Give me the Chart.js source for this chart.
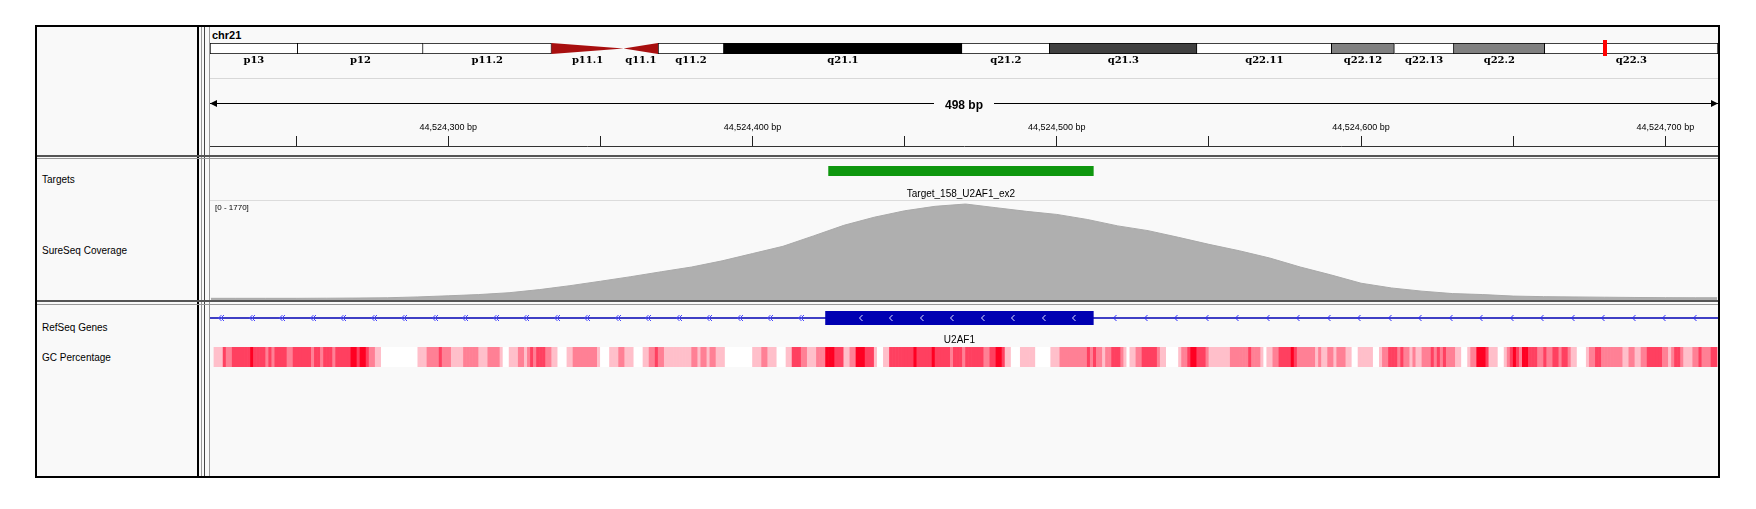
<!DOCTYPE html>
<html>
<head>
<meta charset="utf-8">
<title>chr21 - U2AF1 exon 2</title>
<script src="https://cdn.jsdelivr.net/npm/chart.js@4.4.1/dist/chart.umd.min.js"></script>
<style>
  body { margin:0; width:1756px; height:509px; background:#fff; overflow:hidden;
         font-family:"Liberation Sans", Arial, sans-serif; }
  .box { position:absolute; box-sizing:border-box; }
  canvas { position:absolute; }
  .name { position:absolute; left:42px; font-size:10px; line-height:10px; color:#000; white-space:nowrap; }
</style>
</head>
<body>
<!-- frame and panel rules -->
<div class="box" style="left:35px;top:25px;width:1685px;height:453px;border:2px solid #000;background:#f9f9f9"></div>
<div class="box" style="left:197px;top:27px;width:2px;height:449px;background:#000"></div>
<div class="box" style="left:201px;top:27px;width:1px;height:449px;background:#999"></div>
<div class="box" style="left:204px;top:27px;width:1px;height:449px;background:#444"></div>
<div class="box" style="left:209px;top:27px;width:1px;height:449px;background:#999"></div>
<div class="box" style="left:37px;top:155px;width:1681px;height:2px;background:#555"></div>
<div class="box" style="left:37px;top:158px;width:1681px;height:1px;background:#999"></div>
<div class="box" style="left:37px;top:300px;width:1681px;height:2px;background:#555"></div>
<div class="box" style="left:37px;top:304px;width:1681px;height:1px;background:#999"></div>
<div class="box" style="left:210px;top:78px;width:1508px;height:1px;background:#d8d8d8"></div>
<div class="box" style="left:210px;top:200px;width:1508px;height:1px;background:#dcdcdc"></div>

<!-- track names -->
<div class="name" style="top:175px">Targets</div>
<div class="name" style="top:246px">SureSeq Coverage</div>
<div class="name" style="top:323px">RefSeq Genes</div>
<div class="name" style="top:353px">GC Percentage</div>
<div id="chromLabel" style="position:absolute;left:212px;top:30px;font:bold 11px/11px 'Liberation Sans',Arial,sans-serif"></div>

<canvas id="ideo" width="1508" height="26" style="left:210px;top:39px"></canvas>
<canvas id="ruler" width="1508" height="72" style="left:210px;top:85px"></canvas>
<canvas id="targets" width="1508" height="41" style="left:210px;top:159px"></canvas>
<canvas id="coverage" width="1508" height="99" style="left:210px;top:201px"></canvas>
<canvas id="genes" width="1508" height="40" style="left:210px;top:306px"></canvas>
<canvas id="gc" width="1508" height="20" style="left:210px;top:347px"></canvas>

<script>
// === DATA ===
// genomic positions of the tracks are offsets from BASE
const BASE = 44524000;
const chromName = 'chr21';
const chromLength = 48129895;
const viewStart = 221.7;
const viewEnd = 717.3;
const spanLabel = '498 bp';

// cytobands (hg19)
const bandNames  = ['p13', 'p12', 'p11.2', 'p11.1', 'q11.1', 'q11.2', 'q21.1', 'q21.2', 'q21.3', 'q22.11', 'q22.12', 'q22.13', 'q22.2', 'q22.3'];
const bandStarts = [0, 2800000, 6800000, 10900000, 13200000, 14300000, 16400000, 24000000, 26800000, 31500000, 35800000, 37800000, 39700000, 42600000];
const bandEnds   = [2800000, 6800000, 10900000, 13200000, 14300000, 16400000, 24000000, 26800000, 31500000, 35800000, 37800000, 39700000, 42600000, 48129895];
const bandStains = ['gvar', 'stalk', 'gvar', 'acen', 'acen', 'gneg', 'gpos100', 'gneg', 'gpos75', 'gneg', 'gpos50', 'gneg', 'gpos50', 'gneg'];

// target intervals
const targetNames  = ['Target_158_U2AF1_ex2'];
const targetStarts = [425];
const targetEnds   = [512];

// RefSeq gene (minus strand)
const geneName   = 'U2AF1';
const geneStart  = -10934;   // 44,513,066
const geneEnd    = 3697;     // 44,527,697
const exonStarts = [424];
const exonEnds   = [512];

// coverage
const covMax = 1770;
const covPos   = [222, 230, 240, 250, 260, 270, 280, 290, 300, 310, 320, 330, 340, 350, 360, 370, 380, 390, 400, 410,
                  420, 430, 440, 450, 460, 470, 480, 490, 500, 510, 520, 530, 540, 550, 560, 570, 580, 590, 600, 610,
                  620, 630, 640, 650, 660, 670, 680, 690, 700, 710, 717];
const covDepth = [30, 30, 30, 30, 32, 35, 40, 55, 75, 97, 130, 186, 256, 335, 417, 505, 590, 700, 830, 960,
                  1145, 1335, 1480, 1595, 1675, 1716, 1650, 1585, 1530, 1440, 1325, 1240, 1120, 995, 880, 750, 590, 450, 300, 215,
                  158, 115, 97, 70, 60, 55, 50, 45, 42, 40, 40];

// GC percentage: runs (start offset, shade level 0..4), each run ends where the next starts
const gcStart = [223, 226, 227, 229, 235, 236, 240, 241, 242, 243, 247, 249, 255, 256, 258, 259, 262, 263, 268, 270,
                 271, 273, 274, 276, 278, 290, 293, 297, 298, 301, 305, 310, 313, 317, 318, 320, 323, 325, 326, 327,
                 328, 329, 332, 334, 336, 339, 341,
                 349, 350, 353, 356, 358, 361, 364, 366, 368, 369, 371, 380, 382, 383, 385, 386, 388, 391, 400, 403,
                 405, 408, 411, 413, 416, 418, 421, 424, 427, 430, 432, 434, 437, 440, 441, 443, 445, 453, 454, 459,
                 460, 465, 466, 469,
                 470, 476, 478, 480, 482, 483, 485, 488, 493, 498, 501, 510, 511, 512, 513, 515, 516, 518, 521, 522,
                 523, 524, 526, 528, 533, 534, 536, 540, 541, 543, 544, 546, 549, 550, 557, 563, 564, 567, 568, 569,
                 571, 573, 577, 578, 579, 585, 586, 587, 589, 591, 592,
                 595, 597, 599, 604, 606, 607, 609, 612, 613, 614, 616, 617, 618, 620, 623, 624, 625, 626, 627, 628,
                 631, 633, 635, 636, 638, 641, 642, 645, 647, 648, 649, 650, 651, 652, 653, 655, 658, 660, 661, 663,
                 665, 666, 668, 669, 671, 674, 675, 677, 679, 686, 688, 690, 692, 694, 699, 701, 702, 703, 705, 706,
                 709, 711, 712, 715];
const gcLevel = [1, 3, 2, 3, 4, 3, 2, 3, 2, 3, 2, 3, 2, 3, 2, 3, 2, 3, 4, 3,
                 4, 3, 2, 1, 0, 1, 2, 3, 2, 1, 2, 1, 2, 1, 0, 1, 2, 1, 2, 3,
                 2, 3, 2, 1, 0, 1, 2,
                 1, 0, 1, 2, 1, 0, 1, 2, 3, 2, 1, 2, 1, 2, 1, 2, 1, 0, 1, 2,
                 1, 0, 1, 3, 2, 1, 2, 4, 3, 1, 2, 4, 3, 1, 0, 1, 3, 4, 3, 4,
                 3, 2, 3, 2,
                 3, 2, 3, 4, 3, 1, 0, 1, 0, 1, 2, 3, 2, 3, 2, 1, 2, 3, 2, 1,
                 0, 1, 2, 3, 2, 1, 0, 1, 2, 3, 4, 3, 2, 1, 2, 3, 2, 1, 0, 1,
                 2, 3, 4, 3, 2, 1, 2, 1, 2, 1, 2,
                 1, 0, 1, 0, 1, 2, 3, 2, 3, 2, 1, 2, 1, 2, 3, 2, 3, 2, 3, 2,
                 1, 0, 1, 2, 4, 3, 1, 0, 1, 2, 3, 4, 3, 2, 4, 3, 2, 3, 2, 3,
                 2, 3, 2, 1, 0, 1, 2, 3, 2, 1, 2, 1, 2, 3, 2, 1, 2, 3, 2, 1,
                 2, 3, 2, 3];
const gcEnd = 717;

// === STYLES ===
const stainColor = { gneg: '#ffffff', gvar: '#ffffff', stalk: '#ffffff', gpos50: '#808080', gpos75: '#404040', gpos100: '#000000' };
const gcShade = ['#ffffff', '#ffbfca', '#ff8095', '#ff4060', '#ff0022'];
const sans = '"Liberation Sans", Arial, sans-serif';

function baseOptions(padding) {
    return {
        responsive: false,
        animation: false,
        events: [],
        layout: { padding: padding },
        plugins: { legend: { display: false }, tooltip: { enabled: false } }
    };
}
const viewScale = { type: 'linear', min: BASE + viewStart, max: BASE + viewEnd, display: false, offset: false };

document.getElementById('chromLabel').textContent = chromName;

// === IDEOGRAM ===
const ideoPlugin = {
    id: 'ideoExtras',
    afterDatasetsDraw(chart) {
        const { ctx, chartArea: { top, bottom }, scales: { x } } = chart;
        const mid = (top + bottom) / 2;
        ctx.save();
        bandNames.forEach((name, i) => {
            const x1 = x.getPixelForValue(bandStarts[i]);
            const x2 = x.getPixelForValue(bandEnds[i]);
            if (bandStains[i] === 'acen') {
                ctx.fillStyle = '#a80f0f';
                ctx.beginPath();
                if (name.startsWith('p')) { ctx.moveTo(x1, top); ctx.lineTo(x2, mid); ctx.lineTo(x1, bottom); }
                else { ctx.moveTo(x2, top); ctx.lineTo(x1, mid); ctx.lineTo(x2, bottom); }
                ctx.closePath();
                ctx.fill();
            }
            ctx.fillStyle = '#000';
            ctx.font = 'bold 10px "DejaVu Serif", serif';
            ctx.textAlign = 'center';
            ctx.textBaseline = 'alphabetic';
            ctx.fillText(name, (x1 + x2) / 2, bottom + 9);
        });
        // current view marker
        const cx = x.getPixelForValue(BASE + (viewStart + viewEnd) / 2);
        ctx.fillStyle = '#ff0000';
        ctx.fillRect(Math.round(cx) - 2, 1, 4, chart.height - 10);
        ctx.restore();
    }
};

const bandIdx = bandNames.map((n, i) => i).filter(i => bandStains[i] !== 'acen');
new Chart(document.getElementById('ideo'), {
    type: 'bar',
    data: {
        labels: [chromName],
        datasets: bandIdx.map(i => ({
            data: [[bandStarts[i], bandEnds[i]]],
            backgroundColor: stainColor[bandStains[i]],
            borderColor: '#000',
            borderWidth: 1,
            borderSkipped: (i === 0 || bandStains[i - 1] === 'acen') ? false : 'left',
            grouped: false,
            barPercentage: 1,
            categoryPercentage: 1
        }))
    },
    options: {
        ...baseOptions({ top: 4, bottom: 11 }),
        indexAxis: 'y',
        scales: { x: { type: 'linear', min: 0, max: chromLength, display: false }, y: { display: false } }
    },
    plugins: [ideoPlugin]
});

// === RULER ===
const spanPlugin = {
    id: 'spanArrow',
    afterDraw(chart) {
        const { ctx, scales: { x } } = chart;
        const y = 18.5, l = x.left, r = x.right, c = (l + r) / 2;
        ctx.save();
        ctx.strokeStyle = '#000';
        ctx.lineWidth = 1;
        ctx.beginPath(); ctx.moveTo(l, y); ctx.lineTo(r, y); ctx.stroke();
        ctx.fillStyle = '#000';
        ctx.beginPath(); ctx.moveTo(l, y); ctx.lineTo(l + 7, y - 3.5); ctx.lineTo(l + 7, y + 3.5); ctx.fill();
        ctx.beginPath(); ctx.moveTo(r, y); ctx.lineTo(r - 7, y - 3.5); ctx.lineTo(r - 7, y + 3.5); ctx.fill();
        ctx.font = 'bold 12px ' + sans;
        ctx.textAlign = 'center';
        ctx.textBaseline = 'middle';
        const w = ctx.measureText(spanLabel).width + 22;
        ctx.fillStyle = '#f9f9f9';
        ctx.fillRect(c - w / 2, y - 7, w, 15);
        ctx.fillStyle = '#000';
        ctx.fillText(spanLabel, c, y + 2);
        ctx.restore();
    }
};

new Chart(document.getElementById('ruler'), {
    type: 'line',
    data: { datasets: [] },
    options: {
        ...baseOptions(0),
        scales: {
            x: {
                type: 'linear', position: 'top',
                min: BASE + viewStart, max: BASE + viewEnd,
                afterFit(s) { s.height = 61; },
                border: { display: true, color: '#333', width: 1 },
                grid: { drawOnChartArea: false, drawTicks: true, tickLength: 10, color: '#222', lineWidth: 1 },
                ticks: {
                    stepSize: 50, includeBounds: false, autoSkip: false, maxRotation: 0, maxTicksLimit: 30,
                    padding: 3, color: '#000', font: { family: sans, size: 9 },
                    callback: v => (v % 100 === 0 ? v.toLocaleString('en-US') + ' bp' : '')
                }
            },
            y: { display: false }
        }
    },
    plugins: [spanPlugin]
});

// === TARGETS ===
const targetLabelPlugin = {
    id: 'targetLabels',
    afterDatasetsDraw(chart) {
        const { ctx, chartArea: { bottom }, scales: { x } } = chart;
        ctx.save();
        ctx.fillStyle = '#000';
        ctx.font = '10px ' + sans;
        ctx.textAlign = 'center';
        targetNames.forEach((name, i) => {
            const c = (x.getPixelForValue(BASE + targetStarts[i]) + x.getPixelForValue(BASE + targetEnds[i])) / 2;
            ctx.fillText(name, c, bottom + 20.5);
        });
        ctx.restore();
    }
};

new Chart(document.getElementById('targets'), {
    type: 'bar',
    data: {
        labels: ['Targets'],
        datasets: targetStarts.map((s, i) => ({
            data: [[BASE + s, BASE + targetEnds[i]]],
            backgroundColor: '#0f970f',
            borderWidth: 0,
            grouped: false,
            barPercentage: 1,
            categoryPercentage: 1
        }))
    },
    options: { ...baseOptions({ top: 7, bottom: 24 }), indexAxis: 'y', scales: { x: viewScale, y: { display: false } } },
    plugins: [targetLabelPlugin]
});

// === COVERAGE ===
const rangePlugin = {
    id: 'rangeLabel',
    afterDraw(chart) {
        const { ctx } = chart;
        ctx.save();
        ctx.fillStyle = '#000';
        ctx.font = '8px ' + sans;
        ctx.textAlign = 'left';
        ctx.fillText('[0 - ' + covMax + ']', 5, 9);
        ctx.restore();
    }
};

new Chart(document.getElementById('coverage'), {
    type: 'line',
    data: {
        datasets: [{
            data: covPos.map((p, i) => ({ x: BASE + p, y: covDepth[i] })),
            fill: 'origin',
            backgroundColor: '#afafaf',
            borderColor: '#a9a9a9',
            borderWidth: 1,
            pointRadius: 0,
            tension: 0
        }]
    },
    options: {
        ...baseOptions(0),
        scales: { x: viewScale, y: { min: 0, max: covMax, display: false } }
    },
    plugins: [rangePlugin]
});

// === REFSEQ GENES ===
const genePlugin = {
    id: 'geneExtras',
    afterDatasetsDraw(chart) {
        const { ctx, chartArea: { top, bottom }, scales: { x } } = chart;
        const mid = (top + bottom) / 2;
        const chevron = (p, color, double) => {
            const px = Math.round(x.getPixelForValue(BASE + p)) + 0.5;
            ctx.strokeStyle = color;
            ctx.beginPath();
            ctx.moveTo(px + 2, mid - 3); ctx.lineTo(px - 1, mid); ctx.lineTo(px + 2, mid + 3);
            if (double) { ctx.moveTo(px + 4.5, mid - 3); ctx.lineTo(px + 1.5, mid); ctx.lineTo(px + 4.5, mid + 3); }
            ctx.stroke();
        };
        ctx.save();
        ctx.lineWidth = 1;
        for (let p = viewStart + 3.1; p < exonStarts[0] - 2; p += 10.02) chevron(p, '#4646ff', true);
        for (let p = exonStarts[0] + 11.3; p < exonEnds[0] - 3; p += 10.02) chevron(p, '#e6e6ff', false);
        for (let p = exonEnds[0] + 6.9; p < viewEnd; p += 10.02) chevron(p, '#2a2aff', false);
        const c = (x.getPixelForValue(BASE + exonStarts[0]) + x.getPixelForValue(BASE + exonEnds[0])) / 2;
        ctx.fillStyle = '#000';
        ctx.font = '10px ' + sans;
        ctx.textAlign = 'center';
        ctx.fillText(geneName, c, bottom + 17.5);
        ctx.restore();
    }
};

new Chart(document.getElementById('genes'), {
    type: 'bar',
    data: {
        labels: [geneName],
        datasets: [
            { data: [[BASE + geneStart, BASE + geneEnd]], backgroundColor: '#0000b2', borderWidth: 0,
              grouped: false, barPercentage: 0.12, categoryPercentage: 1 },
            ...exonStarts.map((s, i) => ({
                data: [[BASE + s, BASE + exonEnds[i]]], backgroundColor: '#0000b2', borderWidth: 0,
                grouped: false, barPercentage: 1, categoryPercentage: 1
            }))
        ]
    },
    options: { ...baseOptions({ top: 5, bottom: 21 }), indexAxis: 'y', scales: { x: viewScale, y: { display: false } } },
    plugins: [genePlugin]
});

// === GC PERCENTAGE ===
const gcPoints = [], gcColors = [];
gcStart.forEach((s, i) => {
    const end = i + 1 < gcStart.length ? gcStart[i + 1] : gcEnd;
    for (let p = s; p < end; p++) {
        gcPoints.push({ x: BASE + p + 0.5, y: 1 });
        gcColors.push(gcShade[gcLevel[i]]);
    }
});

new Chart(document.getElementById('gc'), {
    type: 'bar',
    data: {
        datasets: [{
            data: gcPoints,
            backgroundColor: gcColors,
            borderWidth: 0,
            barPercentage: 1,
            categoryPercentage: 1
        }]
    },
    options: {
        ...baseOptions(0),
        scales: { x: viewScale, y: { min: 0, max: 1, display: false } }
    }
});
</script>
</body>
</html>
